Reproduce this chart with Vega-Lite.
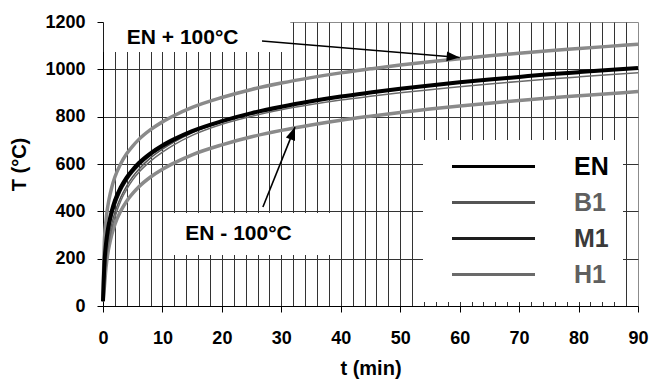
{
  "$schema": "https://vega.github.io/schema/vega-lite/v6.json",
  "width": 535,
  "height": 284,
  "autosize": {"type": "none"},
  "padding": {"left": 103, "top": 22, "right": 13, "bottom": 73},
  "config": {
    "font": "Liberation Sans",
    "view": {"stroke": "#8c8c8c", "strokeWidth": 1}
  },
  "datasets": {
    "boxes": [
      {"t": 0.15, "t2": 31.5, "T": 1073, "T2": 1203},
      {"t": 10.3, "t2": 39.7, "T": 215, "T2": 393}
    ],
    "notes": [
      {"label": "EN + 100°C", "t": 13.4, "T": 1132},
      {"label": "EN - 100°C", "t": 22.8, "T": 304}
    ],
    "arrows": [
      {"a": "plus", "t": 26.75, "T": 1120},
      {"a": "plus", "t": 60, "T": 1050},
      {"a": "minus", "t": 26.9, "T": 418},
      {"a": "minus", "t": 32.3, "T": 756}
    ],
    "tips": [
      {"a": "plus", "t": 60, "T": 1050},
      {"a": "minus", "t": 32.3, "T": 756}
    ],
    "bands": [
      {"s": "EN + 100°C", "t": 0, "T": 20}, {"s": "EN + 100°C", "t": 0.25, "T": 285}, {"s": "EN + 100°C", "t": 0.5, "T": 361}, {"s": "EN + 100°C", "t": 0.75, "T": 412}, {"s": "EN + 100°C", "t": 1, "T": 449}, {"s": "EN + 100°C", "t": 1.5, "T": 504}, {"s": "EN + 100°C", "t": 2, "T": 545}, {"s": "EN + 100°C", "t": 3, "T": 602}, {"s": "EN + 100°C", "t": 4, "T": 644}, {"s": "EN + 100°C", "t": 5, "T": 676}, {"s": "EN + 100°C", "t": 6, "T": 703}, {"s": "EN + 100°C", "t": 8, "T": 745}, {"s": "EN + 100°C", "t": 10, "T": 778}, {"s": "EN + 100°C", "t": 12, "T": 805}, {"s": "EN + 100°C", "t": 15, "T": 839}, {"s": "EN + 100°C", "t": 20, "T": 881}, {"s": "EN + 100°C", "t": 25, "T": 915}, {"s": "EN + 100°C", "t": 30, "T": 942}, {"s": "EN + 100°C", "t": 35, "T": 965}, {"s": "EN + 100°C", "t": 40, "T": 985}, {"s": "EN + 100°C", "t": 45, "T": 1002}, {"s": "EN + 100°C", "t": 50, "T": 1018}, {"s": "EN + 100°C", "t": 55, "T": 1032}, {"s": "EN + 100°C", "t": 60, "T": 1045}, {"s": "EN + 100°C", "t": 65, "T": 1057}, {"s": "EN + 100°C", "t": 70, "T": 1068}, {"s": "EN + 100°C", "t": 75, "T": 1079}, {"s": "EN + 100°C", "t": 80, "T": 1088}, {"s": "EN + 100°C", "t": 85, "T": 1097}, {"s": "EN + 100°C", "t": 90, "T": 1106},
      {"s": "EN - 100°C", "t": 0, "T": 20}, {"s": "EN - 100°C", "t": 0.25, "T": 85}, {"s": "EN - 100°C", "t": 0.5, "T": 161}, {"s": "EN - 100°C", "t": 0.75, "T": 212}, {"s": "EN - 100°C", "t": 1, "T": 249}, {"s": "EN - 100°C", "t": 1.5, "T": 304}, {"s": "EN - 100°C", "t": 2, "T": 345}, {"s": "EN - 100°C", "t": 3, "T": 402}, {"s": "EN - 100°C", "t": 4, "T": 444}, {"s": "EN - 100°C", "t": 5, "T": 476}, {"s": "EN - 100°C", "t": 6, "T": 503}, {"s": "EN - 100°C", "t": 8, "T": 545}, {"s": "EN - 100°C", "t": 10, "T": 578}, {"s": "EN - 100°C", "t": 12, "T": 605}, {"s": "EN - 100°C", "t": 15, "T": 639}, {"s": "EN - 100°C", "t": 20, "T": 681}, {"s": "EN - 100°C", "t": 25, "T": 715}, {"s": "EN - 100°C", "t": 30, "T": 742}, {"s": "EN - 100°C", "t": 35, "T": 765}, {"s": "EN - 100°C", "t": 40, "T": 785}, {"s": "EN - 100°C", "t": 45, "T": 802}, {"s": "EN - 100°C", "t": 50, "T": 818}, {"s": "EN - 100°C", "t": 55, "T": 832}, {"s": "EN - 100°C", "t": 60, "T": 845}, {"s": "EN - 100°C", "t": 65, "T": 857}, {"s": "EN - 100°C", "t": 70, "T": 868}, {"s": "EN - 100°C", "t": 75, "T": 879}, {"s": "EN - 100°C", "t": 80, "T": 888}, {"s": "EN - 100°C", "t": 85, "T": 897}, {"s": "EN - 100°C", "t": 90, "T": 906}
    ],
    "curves": [
      {"s": "EN", "t": 0, "T": 20}, {"s": "EN", "t": 0.25, "T": 185}, {"s": "EN", "t": 0.5, "T": 261}, {"s": "EN", "t": 0.75, "T": 312}, {"s": "EN", "t": 1, "T": 349}, {"s": "EN", "t": 1.5, "T": 404}, {"s": "EN", "t": 2, "T": 445}, {"s": "EN", "t": 3, "T": 502}, {"s": "EN", "t": 4, "T": 544}, {"s": "EN", "t": 5, "T": 576}, {"s": "EN", "t": 6, "T": 603}, {"s": "EN", "t": 8, "T": 645}, {"s": "EN", "t": 10, "T": 678}, {"s": "EN", "t": 12, "T": 705}, {"s": "EN", "t": 15, "T": 739}, {"s": "EN", "t": 20, "T": 781}, {"s": "EN", "t": 25, "T": 815}, {"s": "EN", "t": 30, "T": 842}, {"s": "EN", "t": 35, "T": 865}, {"s": "EN", "t": 40, "T": 885}, {"s": "EN", "t": 45, "T": 902}, {"s": "EN", "t": 50, "T": 918}, {"s": "EN", "t": 55, "T": 932}, {"s": "EN", "t": 60, "T": 945}, {"s": "EN", "t": 65, "T": 957}, {"s": "EN", "t": 70, "T": 968}, {"s": "EN", "t": 75, "T": 979}, {"s": "EN", "t": 80, "T": 988}, {"s": "EN", "t": 85, "T": 997}, {"s": "EN", "t": 90, "T": 1006},
      {"s": "B1", "t": 0, "T": 20}, {"s": "B1", "t": 0.5, "T": 200}, {"s": "B1", "t": 1, "T": 290}, {"s": "B1", "t": 1.5, "T": 350}, {"s": "B1", "t": 2, "T": 395}, {"s": "B1", "t": 3, "T": 460}, {"s": "B1", "t": 4, "T": 508}, {"s": "B1", "t": 5, "T": 546}, {"s": "B1", "t": 6, "T": 577}, {"s": "B1", "t": 8, "T": 626}, {"s": "B1", "t": 10, "T": 663}, {"s": "B1", "t": 12, "T": 694}, {"s": "B1", "t": 15, "T": 732}, {"s": "B1", "t": 20, "T": 777}, {"s": "B1", "t": 25, "T": 812}, {"s": "B1", "t": 30, "T": 840}, {"s": "B1", "t": 35, "T": 863}, {"s": "B1", "t": 40, "T": 883}, {"s": "B1", "t": 45, "T": 900}, {"s": "B1", "t": 50, "T": 916}, {"s": "B1", "t": 55, "T": 930}, {"s": "B1", "t": 60, "T": 943}, {"s": "B1", "t": 65, "T": 955}, {"s": "B1", "t": 70, "T": 966}, {"s": "B1", "t": 75, "T": 977}, {"s": "B1", "t": 80, "T": 986}, {"s": "B1", "t": 85, "T": 995}, {"s": "B1", "t": 90, "T": 1004},
      {"s": "M1", "t": 0, "T": 20}, {"s": "M1", "t": 0.5, "T": 230}, {"s": "M1", "t": 1, "T": 320}, {"s": "M1", "t": 1.5, "T": 380}, {"s": "M1", "t": 2, "T": 422}, {"s": "M1", "t": 3, "T": 485}, {"s": "M1", "t": 4, "T": 530}, {"s": "M1", "t": 5, "T": 564}, {"s": "M1", "t": 6, "T": 592}, {"s": "M1", "t": 8, "T": 636}, {"s": "M1", "t": 10, "T": 670}, {"s": "M1", "t": 12, "T": 699}, {"s": "M1", "t": 15, "T": 735}, {"s": "M1", "t": 20, "T": 779}, {"s": "M1", "t": 25, "T": 814}, {"s": "M1", "t": 30, "T": 841}, {"s": "M1", "t": 35, "T": 864}, {"s": "M1", "t": 40, "T": 884}, {"s": "M1", "t": 45, "T": 901}, {"s": "M1", "t": 50, "T": 917}, {"s": "M1", "t": 55, "T": 931}, {"s": "M1", "t": 60, "T": 944}, {"s": "M1", "t": 65, "T": 956}, {"s": "M1", "t": 70, "T": 967}, {"s": "M1", "t": 75, "T": 978}, {"s": "M1", "t": 80, "T": 987}, {"s": "M1", "t": 85, "T": 996}, {"s": "M1", "t": 90, "T": 1005},
      {"s": "H1", "t": 0, "T": 20}, {"s": "H1", "t": 0.5, "T": 180}, {"s": "H1", "t": 1, "T": 270}, {"s": "H1", "t": 1.5, "T": 330}, {"s": "H1", "t": 2, "T": 375}, {"s": "H1", "t": 3, "T": 445}, {"s": "H1", "t": 4, "T": 494}, {"s": "H1", "t": 5, "T": 533}, {"s": "H1", "t": 6, "T": 564}, {"s": "H1", "t": 8, "T": 612}, {"s": "H1", "t": 10, "T": 650}, {"s": "H1", "t": 12, "T": 682}, {"s": "H1", "t": 15, "T": 721}, {"s": "H1", "t": 20, "T": 768}, {"s": "H1", "t": 25, "T": 802}, {"s": "H1", "t": 30, "T": 829}, {"s": "H1", "t": 35, "T": 851}, {"s": "H1", "t": 40, "T": 870}, {"s": "H1", "t": 45, "T": 886}, {"s": "H1", "t": 50, "T": 901}, {"s": "H1", "t": 55, "T": 914}, {"s": "H1", "t": 60, "T": 926}, {"s": "H1", "t": 65, "T": 938}, {"s": "H1", "t": 70, "T": 949}, {"s": "H1", "t": 75, "T": 959}, {"s": "H1", "t": 80, "T": 968}, {"s": "H1", "t": 85, "T": 977}, {"s": "H1", "t": 90, "T": 986}
    ]
  },
  "encoding": {
    "x": {
      "field": "t", "type": "quantitative",
      "scale": {"domain": [0, 90], "nice": false, "zero": false},
      "axis": {
        "values": [0, 2, 4, 6, 8, 10, 12, 14, 16, 18, 20, 22, 24, 26, 28, 30, 32, 34, 36, 38, 40, 42, 44, 46, 48, 50, 52, 54, 56, 58, 60, 62, 64, 66, 68, 70, 72, 74, 76, 78, 80, 82, 84, 86, 88, 90],
        "grid": true,
        "gridColor": "#333333",
        "gridWidth": 1,
        "gridOpacity": {"condition": {"test": "datum.value === 0 || datum.value === 90", "value": 0}, "value": 1},
        "ticks": true,
        "tickSize": 6,
        "tickColor": "#000000",
        "tickOpacity": {"condition": {"test": "datum.value % 10 === 0", "value": 1}, "value": 0},
        "domainColor": "#000000",
        "labelExpr": "datum.value % 10 === 0 ? datum.label : ''",
        "labelOverlap": false,
        "labelFlush": false,
        "labelFontSize": 18,
        "labelFontWeight": "bold",
        "labelColor": "#000000",
        "labelPadding": 17,
        "title": "t (min)",
        "titleFontSize": 20,
        "titleFontWeight": "bold",
        "titleColor": "#000000",
        "titlePadding": 11,
        "zindex": 0
      }
    },
    "y": {
      "field": "T", "type": "quantitative",
      "scale": {"domain": [0, 1200], "nice": false},
      "axis": {
        "values": [0, 200, 400, 600, 800, 1000, 1200],
        "format": "d",
        "grid": true,
        "gridColor": "#333333",
        "gridWidth": 1,
        "gridOpacity": {"condition": {"test": "datum.value === 0 || datum.value === 1200", "value": 0}, "value": 1},
        "tickSize": 6,
        "tickColor": "#000000",
        "domainColor": "#000000",
        "labelFontSize": 18,
        "labelFontWeight": "bold",
        "labelColor": "#000000",
        "labelPadding": 12,
        "title": "T (°C)",
        "titleFontSize": 20,
        "titleFontWeight": "bold",
        "titleColor": "#000000",
        "titlePadding": 15,
        "zindex": 0
      }
    }
  },
  "layer": [
    {
      "data": {"name": "boxes"},
      "mark": {"type": "rect", "fill": "white", "strokeWidth": 0},
      "encoding": {
        "x2": {"field": "t2"},
        "y2": {"field": "T2"}
      }
    },
    {
      "data": {"name": "bands"},
      "mark": {"type": "line", "color": "#8a8a8a", "strokeWidth": 3.5, "interpolate": "monotone"},
      "encoding": {
        "detail": {"field": "s", "type": "nominal"}
      }
    },
    {
      "data": {"name": "curves"},
      "transform": [{"filter": "datum.s !== 'EN'"}],
      "mark": {"type": "line", "strokeWidth": 1.5, "interpolate": "monotone"},
      "encoding": {
        "color": {
          "field": "s", "type": "nominal",
          "scale": {"domain": ["EN", "B1", "M1", "H1"], "range": ["#000000", "#555555", "#1e1e1e", "#6a6a6a"]},
          "legend": {
            "orient": "none", "legendX": 320, "legendY": 118,
            "title": null, "padding": 14, "rowPadding": 10,
            "fillColor": "white",
            "symbolType": "M-8.3,0H8.3", "symbolSize": 100, "symbolStrokeWidth": 3,
            "symbolOffset": 44, "symbolFillColor": "transparent",
            "labelAlign": "left", "labelOffset": 68,
            "labelFontSize": 25, "labelFontWeight": "bold", "labelFont": "Liberation Sans",
            "encode": {"labels": {"update": {"fill": {"signal": "datum.label === 'EN' ? '#000000' : datum.label === 'M1' ? '#3a3a3a' : '#5f5f5f'"}}}}
          }
        }
      }
    },
    {
      "data": {"name": "curves"},
      "transform": [{"filter": "datum.s === 'EN'"}],
      "mark": {"type": "line", "strokeWidth": 4, "interpolate": "monotone"},
      "encoding": {
        "color": {"field": "s", "type": "nominal"}
      }
    },
    {
      "data": {"name": "arrows"},
      "mark": {"type": "line", "color": "#000000", "strokeWidth": 1.6},
      "encoding": {
        "detail": {"field": "a", "type": "nominal"}
      }
    },
    {
      "data": {"name": "tips"},
      "mark": {"type": "point", "shape": "M0,0L-2,-0.75L-2,0.75Z", "size": 169, "filled": true, "color": "#000000", "opacity": 1},
      "encoding": {
        "angle": {"condition": {"test": "datum.a === 'plus'", "value": 4.6}, "value": 290.6}
      }
    },
    {
      "data": {"name": "notes"},
      "mark": {"type": "text", "fontSize": 21, "fontWeight": "bold", "color": "#000000", "align": "center", "baseline": "middle"},
      "encoding": {
        "text": {"field": "label"}
      }
    }
  ]
}
